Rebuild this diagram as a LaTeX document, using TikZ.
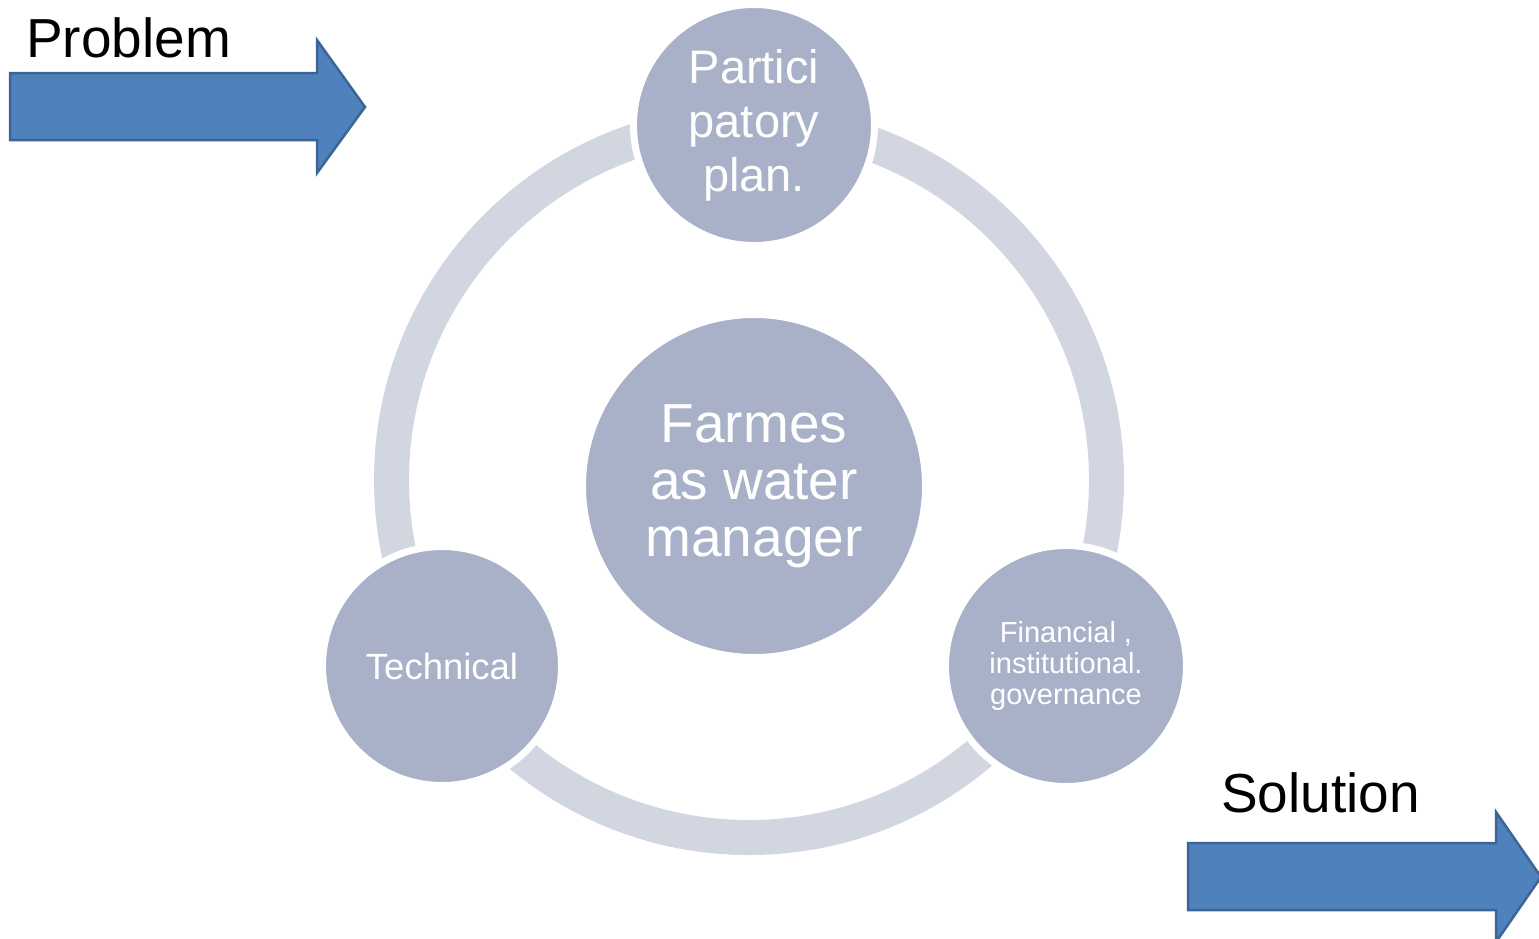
\documentclass[tikz,border=0pt]{standalone}
\usepackage{fontspec}
\setmainfont{Liberation Sans}
\definecolor{nodefill}{HTML}{A9B1C9}
\definecolor{ringcol}{HTML}{D1D6E1}
\definecolor{arrowfill}{HTML}{4F81BD}
\definecolor{arrowline}{HTML}{3C6494}
\tikzset{
  bubble/.style={circle, fill=nodefill, draw=white, line width=7pt, text=white, align=center, inner sep=0pt},
  bigarrow/.style={fill=arrowfill, draw=arrowline, line width=2.5pt, line join=miter},
  label text/.style={font=\fontsize{55}{60}\selectfont, text=black, inner sep=0pt}
}
\begin{document}
\begin{tikzpicture}[x=1pt,y=-1pt]
\useasboundingbox (0,0) rectangle (1539,938);
% ring
\draw[ringcol, line width=35pt] (749,480) circle (357.5);
% nodes
\node[bubble, minimum size=343pt, font=\fontsize{55}{57}\selectfont] (center) at (754,486) {Farmes\\as water\\manager};
\node[bubble, minimum size=241pt, font=\fontsize{47}{54}\selectfont] (top) at (754,125) {Partici\\patory\\plan.};
\node[bubble, minimum size=239pt, font=\fontsize{36.5}{40}\selectfont] (tech) at (442,666) {Technical};
\node[bubble, minimum size=241pt, font=\fontsize{29}{31}\selectfont] (fin) at (1066,666) {Financial ,\\institutional.\\governance};
% arrows
\draw[bigarrow] (10,73) -- (317,73) -- (317,40) -- (365,107) -- (317,173) -- (317,140) -- (10,140) -- cycle;
\draw[bigarrow] (1188,843) -- (1496,843) -- (1496,812) -- (1541,877) -- (1496,942) -- (1496,910) -- (1188,910) -- cycle;
% labels
\node[label text, anchor=base west] (problem) at (26,57) {Problem};
\node[label text, anchor=base west] (solution) at (1221,812) {Solution};
\end{tikzpicture}
\end{document}
